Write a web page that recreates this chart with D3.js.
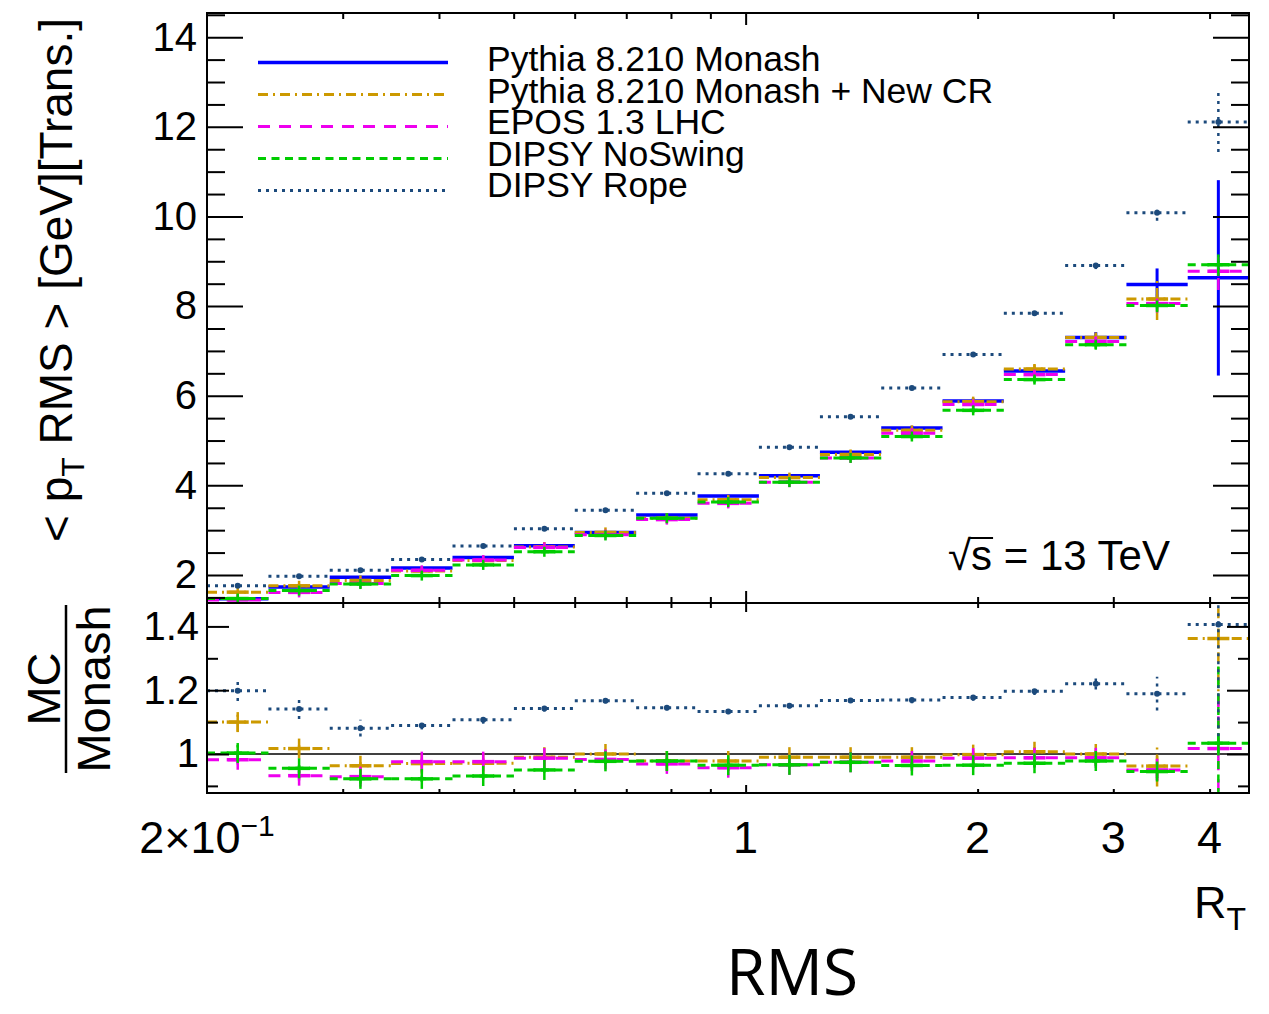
<!DOCTYPE html>
<html>
<head>
<meta charset="utf-8">
<script src="https://cdn.jsdelivr.net/npm/d3@7"></script>
<style>
  html, body { margin: 0; padding: 0; background: #fff; }
  svg text { font-family: "Liberation Sans", Arial, Helvetica, sans-serif; fill: #000; }
</style>
</head>
<body>
<script>
// ---- binning in R_T (log-spaced bins) ----
const binEdges = [0.2, 0.2403, 0.2886, 0.3467, 0.4165, 0.5004, 0.6002, 0.7210, 0.8662,
                  1.0405, 1.2486, 1.4996, 1.8010, 2.1630, 2.5980, 3.1200, 3.7470, 4.5];

// ---- <pT RMS> per bin, transverse region ----
const monash     = [1.470, 1.730, 1.950, 2.155, 2.390, 2.650, 2.950, 3.340, 3.760, 4.215, 4.736, 5.280, 5.880, 6.550, 7.300, 8.480, 8.630];
const monashErr  = [0.02, 0.02, 0.02, 0.02, 0.02, 0.02, 0.02, 0.03, 0.03, 0.03, 0.04, 0.05, 0.06, 0.08, 0.12, 0.36, 2.18];
const newCR      = [1.617, 1.759, 1.878, 2.090, 2.321, 2.624, 2.950, 3.267, 3.677, 4.173, 4.689, 5.227, 5.868, 6.596, 7.300, 8.158, null];
const newCRErr   = [0.03, 0.02, 0.02, 0.02, 0.02, 0.02, 0.03, 0.03, 0.03, 0.04, 0.05, 0.06, 0.07, 0.10, 0.15, 0.47, 0];
const epos       = [1.444, 1.612, 1.812, 2.103, 2.333, 2.616, 2.900, 3.236, 3.598, 4.072, 4.613, 5.164, 5.804, 6.471, 7.212, 8.056, 8.777];
const eposErr    = [0.02, 0.02, 0.02, 0.02, 0.02, 0.02, 0.02, 0.03, 0.03, 0.03, 0.04, 0.05, 0.06, 0.08, 0.10, 0.20, 0.42];
const noSwing    = [1.474, 1.652, 1.798, 1.987, 2.225, 2.518, 2.882, 3.267, 3.628, 4.072, 4.613, 5.090, 5.674, 6.360, 7.139, 8.014, 8.923];
const noSwingErr = [0.02, 0.02, 0.02, 0.02, 0.02, 0.02, 0.02, 0.03, 0.03, 0.03, 0.04, 0.05, 0.06, 0.07, 0.09, 0.15, 0.25];
const rope       = [1.761, 1.974, 2.108, 2.347, 2.646, 3.029, 3.443, 3.824, 4.260, 4.851, 5.532, 6.172, 6.921, 7.840, 8.906, 10.083, 12.110];
const ropeErr    = [0.03, 0.03, 0.03, 0.03, 0.03, 0.03, 0.03, 0.03, 0.04, 0.04, 0.04, 0.05, 0.05, 0.06, 0.08, 0.18, 0.67];

// ---- ratio MC / Monash ----
const newCRRatio      = [1.100, 1.017, 0.963, 0.970, 0.971, 0.990, 1.000, 0.978, 0.978, 0.990, 0.990, 0.990, 0.998, 1.007, 1.000, 0.962, 1.362];
const newCRRatioErr   = [0.030, 0.021, 0.020, 0.012, 0.010, 0.010, 0.008, 0.008, 0.008, 0.008, 0.010, 0.010, 0.012, 0.015, 0.020, 0.064, 0.35];
const eposRatio       = [0.982, 0.932, 0.929, 0.976, 0.976, 0.987, 0.983, 0.969, 0.957, 0.966, 0.974, 0.978, 0.987, 0.988, 0.988, 0.950, 1.017];
const eposRatioErr    = [0.015, 0.015, 0.012, 0.010, 0.010, 0.008, 0.008, 0.008, 0.008, 0.008, 0.008, 0.010, 0.010, 0.012, 0.015, 0.035, 0.20];
const noSwingRatio    = [1.003, 0.955, 0.922, 0.922, 0.931, 0.950, 0.977, 0.978, 0.965, 0.966, 0.974, 0.964, 0.965, 0.971, 0.978, 0.945, 1.034];
const noSwingRatioErr = [0.025, 0.015, 0.015, 0.010, 0.010, 0.008, 0.008, 0.008, 0.008, 0.008, 0.008, 0.010, 0.010, 0.012, 0.015, 0.020, 0.25];
const ropeRatio       = [1.198, 1.141, 1.081, 1.089, 1.107, 1.143, 1.167, 1.145, 1.133, 1.151, 1.168, 1.169, 1.177, 1.197, 1.220, 1.189, 1.406];
const ropeRatioErr    = [0.032, 0.031, 0.026, 0.012, 0.012, 0.010, 0.008, 0.008, 0.008, 0.008, 0.008, 0.010, 0.010, 0.012, 0.018, 0.053, 0.35];

// ---- labels & ticks ----
const seriesNames = ["Pythia 8.210 Monash", "Pythia 8.210 Monash + New CR", "EPOS 1.3 LHC", "DIPSY NoSwing", "DIPSY Rope"];
const topMajorTicks = [2, 4, 6, 8, 10, 12, 14];
const ratioMajorTicks = [1, 1.2, 1.4];
const ratioTickLabels = ["1", "1.2", "1.4"];
const xMinorTicks = [0.3, 0.4, 0.5, 0.6, 0.7, 0.8, 0.9, 2, 3, 4];
const xMajorTicks = [1];
const xLabelTicks = [
  { v: 0.2, base: "2\u00d710", sup: "\u22121" },
  { v: 1, base: "1" }, { v: 2, base: "2" }, { v: 3, base: "3" }, { v: 4, base: "4" }
];

const W = 1269, H = 1014;
const L = 207, R = 1249, T1 = 13, B1 = 603, B2 = 793;

const svg = d3.select("body").append("svg").attr("width", W).attr("height", H);

const x = d3.scaleLog().domain([0.2, 4.5]).range([L, R]);
const yTop = d3.scaleLinear().domain([1.375, 14.54]).range([B1, T1]);
const yRat = d3.scaleLinear().domain([0.8777, 1.4734]).range([B2, B1]);

const styles = [
  { color: "#0000ff", dash: null,       width: 3.5, marker: null },
  { color: "#cc9900", dash: "10,5,2,5", width: 3,   marker: "plus" },
  { color: "#ee00ee", dash: "12,9",     width: 3,   marker: "plus" },
  { color: "#00cc00", dash: "8,5.5",    width: 3,   marker: "plus" },
  { color: "#1c4a7c", dash: "3,5",      width: 3,   marker: "dot" }
];

const topSeries = [
  { v: monash, e: monashErr }, { v: newCR, e: newCRErr }, { v: epos, e: eposErr },
  { v: noSwing, e: noSwingErr }, { v: rope, e: ropeErr }
];
const ratioSeries = [
  null,
  { v: newCRRatio, e: newCRRatioErr }, { v: eposRatio, e: eposRatioErr },
  { v: noSwingRatio, e: noSwingRatioErr }, { v: ropeRatio, e: ropeRatioErr }
];

const defs = svg.append("defs");
defs.append("clipPath").attr("id", "clipTop").append("rect")
  .attr("x", L).attr("y", T1).attr("width", R - L).attr("height", B1 - T1);
defs.append("clipPath").attr("id", "clipRat").append("rect")
  .attr("x", L).attr("y", B1).attr("width", R - L).attr("height", B2 - B1);

// draw a histogram with x-extent bars, vertical error bars and markers
function drawHist(g, yScale, vals, errs, st, plusHalfHeight) {
  const bins = vals.map((v, i) => ({ v, e: errs[i], x0: binEdges[i], x1: binEdges[i + 1] }))
                   .filter(d => d.v !== null);
  const hg = g.append("g");
  hg.selectAll("line.h").data(bins).join("line")
    .attr("x1", d => x(d.x0)).attr("x2", d => x(d.x1))
    .attr("y1", d => yScale(d.v)).attr("y2", d => yScale(d.v))
    .attr("stroke", st.color).attr("stroke-width", st.width)
    .attr("stroke-dasharray", st.dash);
  hg.selectAll("line.v").data(bins.filter(d => d.e > 0)).join("line")
    .attr("x1", d => x(Math.sqrt(d.x0 * d.x1))).attr("x2", d => x(Math.sqrt(d.x0 * d.x1)))
    .attr("y1", d => yScale(d.v - d.e)).attr("y2", d => yScale(d.v + d.e))
    .attr("stroke", st.color).attr("stroke-width", st.width - 0.5)
    .attr("stroke-dasharray", st.dash);
  if (st.marker === "plus") {
    const m = hg.selectAll("g.m").data(bins).join("g")
      .attr("transform", d => `translate(${x(Math.sqrt(d.x0 * d.x1))},${yScale(d.v)})`);
    m.append("line").attr("x1", -11).attr("x2", 11).attr("y1", 0).attr("y2", 0)
      .attr("stroke", st.color).attr("stroke-width", 3.5);
    m.append("line").attr("x1", 0).attr("x2", 0).attr("y1", -plusHalfHeight).attr("y2", plusHalfHeight)
      .attr("stroke", st.color).attr("stroke-width", 2.5);
  } else if (st.marker === "dot") {
    hg.selectAll("circle").data(bins).join("circle")
      .attr("cx", d => x(Math.sqrt(d.x0 * d.x1))).attr("cy", d => yScale(d.v))
      .attr("r", 3).attr("fill", st.color);
  }
}

// ---- top panel ----
const gTop = svg.append("g").attr("clip-path", "url(#clipTop)");
topSeries.forEach((s, i) => drawHist(gTop, yTop, s.v, s.e, styles[i], 5));

// ---- ratio panel ----
const gRat = svg.append("g").attr("clip-path", "url(#clipRat)");
gRat.append("line").attr("x1", L).attr("x2", R).attr("y1", yRat(1)).attr("y2", yRat(1))
  .attr("stroke", "#000").attr("stroke-width", 1.5);
ratioSeries.forEach((s, i) => { if (s) drawHist(gRat, yRat, s.v, s.e, styles[i], 10); });

// ---- axes ----
function styleAxis(g) {
  g.select(".domain").remove();
  g.selectAll(".tick line").attr("stroke", "#000").attr("stroke-width", 2);
  g.selectAll("text").attr("font-family", "Liberation Sans, Arial, sans-serif").attr("fill", "#000");
}
const topMinor = d3.range(1.5, 14.51, 0.5).filter(v => !topMajorTicks.includes(v));
// left
svg.append("g").attr("transform", `translate(${L},0)`)
  .call(d3.axisLeft(yTop).tickValues(topMajorTicks).tickSize(-36).tickPadding(10).tickFormat(d3.format("d")))
  .call(styleAxis).call(g => g.selectAll("text").attr("font-size", 40));
svg.append("g").attr("transform", `translate(${L},0)`)
  .call(d3.axisLeft(yTop).tickValues(topMinor).tickSize(-18).tickFormat(""))
  .call(styleAxis);
// right
svg.append("g").attr("transform", `translate(${R},0)`)
  .call(d3.axisRight(yTop).tickValues(topMajorTicks).tickSize(-36).tickFormat(""))
  .call(styleAxis);
svg.append("g").attr("transform", `translate(${R},0)`)
  .call(d3.axisRight(yTop).tickValues(topMinor).tickSize(-18).tickFormat(""))
  .call(styleAxis);

// ratio y axes
const ratMinor = [0.9, 1.1, 1.3];
svg.append("g").attr("transform", `translate(${L},0)`)
  .call(d3.axisLeft(yRat).tickValues(ratioMajorTicks).tickSize(-22).tickPadding(8)
        .tickFormat((d, i) => ratioTickLabels[i]))
  .call(styleAxis).call(g => g.selectAll("text").attr("font-size", 40));
svg.append("g").attr("transform", `translate(${L},0)`)
  .call(d3.axisLeft(yRat).tickValues(ratMinor).tickSize(-11).tickFormat(""))
  .call(styleAxis);
svg.append("g").attr("transform", `translate(${R},0)`)
  .call(d3.axisRight(yRat).tickValues(ratioMajorTicks).tickSize(-22).tickFormat(""))
  .call(styleAxis);
svg.append("g").attr("transform", `translate(${R},0)`)
  .call(d3.axisRight(yRat).tickValues(ratMinor).tickSize(-11).tickFormat(""))
  .call(styleAxis);

// x ticks: top panel top/bottom, ratio top/bottom
function xTicks(yPos, dir, major, minor) {
  svg.append("g").attr("transform", `translate(0,${yPos})`)
    .call((dir < 0 ? d3.axisBottom(x) : d3.axisTop(x)).tickValues(xMinorTicks).tickSize(-minor).tickFormat(""))
    .call(styleAxis);
  svg.append("g").attr("transform", `translate(0,${yPos})`)
    .call((dir < 0 ? d3.axisBottom(x) : d3.axisTop(x)).tickValues(xMajorTicks).tickSize(-major).tickFormat(""))
    .call(styleAxis);
}
xTicks(T1, 1, 12, 6);    // top edge, ticks pointing down
xTicks(B1, -1, 12, 6);   // top panel bottom, ticks pointing up
xTicks(B1, 1, 9, 5);     // ratio top, ticks pointing down
xTicks(B2, -1, 8, 4);    // ratio bottom, ticks pointing up

// frames
svg.append("rect").attr("x", L).attr("y", T1).attr("width", R - L).attr("height", B1 - T1)
  .attr("fill", "none").attr("stroke", "#000").attr("stroke-width", 2);
svg.append("rect").attr("x", L).attr("y", B1).attr("width", R - L).attr("height", B2 - B1)
  .attr("fill", "none").attr("stroke", "#000").attr("stroke-width", 2);

// x tick labels
const xl = svg.append("g");
xLabelTicks.forEach(t => {
  const txt = xl.append("text").attr("x", x(t.v)).attr("y", 853)
    .attr("text-anchor", "middle").attr("font-size", 45);
  txt.append("tspan").text(t.base);
  if (t.sup) txt.append("tspan").attr("dy", -17).attr("font-size", 30).text(t.sup);
});

// x title R_T
const rt = svg.append("text").attr("x", 1246).attr("y", 918).attr("text-anchor", "end").attr("font-size", 45);
rt.append("tspan").text("R");
rt.append("tspan").attr("dy", 12).attr("font-size", 32).text("T");

// y title, top panel
const yt = svg.append("text").attr("transform", "translate(72,280) rotate(-90)")
  .attr("text-anchor", "middle").attr("font-size", 46);
yt.append("tspan").text("< p");
yt.append("tspan").attr("dy", 12).attr("font-size", 32).text("T");
yt.append("tspan").attr("dy", -12).text(" RMS > [GeV][Trans.]");

// y title, ratio panel (fraction)
svg.append("text").attr("transform", "translate(60,689) rotate(-90)")
  .attr("text-anchor", "middle").attr("font-size", 47).text("MC");
svg.append("line").attr("x1", 66).attr("x2", 66).attr("y1", 605).attr("y2", 773)
  .attr("stroke", "#000").attr("stroke-width", 2.5);
svg.append("text").attr("transform", "translate(110,689) rotate(-90)")
  .attr("text-anchor", "middle").attr("font-size", 47).text("Monash");

// legend (entries stacked tightly, as in the ROOT legend box)
const leg = svg.append("g");
styles.forEach((st, i) => {
  const ly = 62.5 + i * 32;
  leg.append("line").attr("x1", 258).attr("x2", 448).attr("y1", ly).attr("y2", ly)
    .attr("stroke", st.color).attr("stroke-width", st.width).attr("stroke-dasharray", st.dash);
  leg.append("text").attr("x", 487).attr("y", 71 + i * 31.6).attr("font-size", 35.5)
    .text(seriesNames[i]);
});

// energy label
const sq = svg.append("text").attr("x", 948).attr("y", 570).attr("font-size", 42);
sq.append("tspan").text("\u221a");
sq.append("tspan").text("s");
sq.append("tspan").text(" = 13 TeV");
const nodeS = sq.node();
const sStart = nodeS.getStartPositionOfChar(1).x, sEnd = nodeS.getEndPositionOfChar(1).x;
svg.append("line").attr("x1", sStart - 1).attr("x2", sEnd + 1).attr("y1", 538).attr("y2", 538)
  .attr("stroke", "#000").attr("stroke-width", 2);

// bottom title
svg.append("text").attr("x", 792).attr("y", 995).attr("text-anchor", "middle")
  .style("font-family", "'Open Sans', 'Noto Sans', sans-serif").attr("font-size", 64)
  .attr("fill", "#1a1a1a").text("RMS");
</script>
</body>
</html>
